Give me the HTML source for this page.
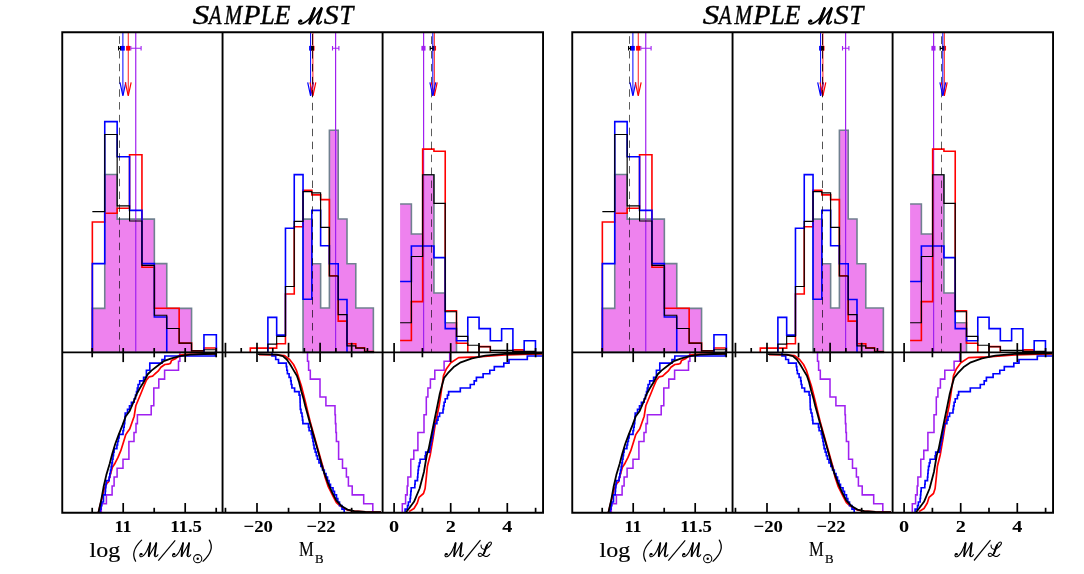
<!DOCTYPE html>
<html><head><meta charset="utf-8"><title>SAMPLE MST</title>
<style>
html,body{margin:0;padding:0;background:#fff;}
body{width:1084px;height:574px;overflow:hidden;font-family:"Liberation Serif",serif;}
svg{display:block;}
</style></head><body>
<svg width="1084" height="574" viewBox="0 0 1084 574">
<rect width="1084" height="574" fill="#fff"/>
<defs><g id="fig">
<path d="M92.35 352.4V308.4H104.75V174.5H117.15V219.1H129.55V219.1H141.95V219.1H154.35V263.6H166.75V308.4H179.15V308.4H191.55V352.4Z" fill="#ee82ee" stroke="#708090" stroke-width="1.6"/>
<line x1="135.75" y1="32.25" x2="135.75" y2="352.4" stroke="#a020f0" stroke-width="1.2"/>
<path d="M92.35 352.4V222H104.75V213.2H117.15V208.3H129.55V154.7H141.95V267.2H154.35V308.2H166.75V308.2H179.15V343.1H191.55V350.9H203.95V348H216.35V352.4" fill="none" stroke="#ff0000" stroke-width="1.6"/>
<path d="M92.35 352.4V263.6H104.75V121.6H117.15V156.7H129.55V210.4H141.95V263.6H154.35V317H166.75V352.4M203.95 352.4V334.8H216.35V352.4" fill="none" stroke="#0000ff" stroke-width="1.6"/>
<path d="M92.35 211.6H104.75V134.5H117.15V205.8H129.55V221H141.95V265.4H154.35V315.2H166.75V328.5H179.15V343.1H191.55V350.9H203.95V349.7H216.35V352.4" fill="none" stroke="#000" stroke-width="1.15"/>
<path d="M303.04 352.4V219.1H311.83V263.7H320.62V308H329.41V130.2H338.2V219H346.99V263.7H355.78V308H364.57V308H373.36V352.4Z" fill="#ee82ee" stroke="#708090" stroke-width="1.6"/>
<line x1="335.6" y1="32.25" x2="335.6" y2="352.4" stroke="#a020f0" stroke-width="1.2"/>
<path d="M250.3 352.4V348.1H259.09V348.1H267.88V348.1H276.67V343.7H285.46V294H294.25V226.7H303.04V190.3H311.83V194.9H320.62V199.6H329.41V275.8H338.2V321.1H346.99V343.7H355.78V347.7H364.57V351.5H373.36V352.4" fill="none" stroke="#ff0000" stroke-width="1.6"/>
<path d="M267.88 352.4V317.4H276.67V335.1H285.46V228.2H294.25V174.6H303.04V299.2H311.83V210.4H320.62V245.7H329.41V263.7H338.2V299.5H346.99V352.4" fill="none" stroke="#0000ff" stroke-width="1.6"/>
<path d="M267.88 352.4V344.1H276.67V336.3H285.46V286.5H294.25V221.4H303.04V191.6H311.83V192.8H320.62V227.3H329.41V276H338.2V314.6H346.99V345.9H355.78V348.1H364.57V351.5H373.36V352.4" fill="none" stroke="#000" stroke-width="1.15"/>
<path d="M400.1 352.4V204H411.38V234H422.66V174.7H433.94V293H445.22V322.7H456.5V352.4Z" fill="#ee82ee" stroke="none" stroke-width="0"/>
<path d="M400.1 204H411.38V234H422.66V174.7H433.94V293H445.22V322.7H456.5V352.4" fill="none" stroke="#708090" stroke-width="1.6"/>
<line x1="423.6" y1="32.25" x2="423.6" y2="352.4" stroke="#a020f0" stroke-width="1.2"/>
<path d="M400.1 340.5H411.38V301.6H422.66V149.1H433.94V151.2H445.22V310.7H456.5V343.3H467.78V352.4M479.06 352.4V346.6H490.34V352.4M512.9 352.4V349.9H524.18V352.4" fill="none" stroke="#ff0000" stroke-width="1.6"/>
<path d="M400.1 281.5H411.38V246H422.66V246H433.94V257.6H445.22V328.6H456.5V340.7H467.78V317.3H479.06V328.6H490.34V340.7H501.62V328.8H512.9V352.4M524.18 352.4V340.7H535.46V352.4" fill="none" stroke="#0000ff" stroke-width="1.6"/>
<path d="M400.1 322.7H411.38V256.5H422.66V174.7H433.94V203.3H445.22V311.7H456.5V336.3H467.78V345.2H479.06V346.7H490.34V350.3H501.62V350.3H512.9V351.3H524.18V351.3H535.46V352.4" fill="none" stroke="#000" stroke-width="1.15"/>
<line x1="119.45" y1="36.2" x2="119.45" y2="43.8" stroke="#000" stroke-width="0.85" opacity="0.8"/>
<line x1="119.45" y1="50.95" x2="119.45" y2="352.4" stroke="#000" stroke-width="0.85" stroke-dasharray="7.5 5.28" opacity="0.8"/>
<line x1="312.5" y1="34" x2="312.5" y2="44.9" stroke="#000" stroke-width="0.85" opacity="0.8"/>
<line x1="312.5" y1="51" x2="312.5" y2="352.4" stroke="#000" stroke-width="0.85" stroke-dasharray="7.5 5.45" opacity="0.8"/>
<line x1="431.45" y1="36.3" x2="431.45" y2="44.1" stroke="#000" stroke-width="0.85" opacity="0.8"/>
<line x1="431.45" y1="51" x2="431.45" y2="352.4" stroke="#000" stroke-width="0.85" stroke-dasharray="7.5 5.45" opacity="0.8"/>
<line x1="122.9" y1="32.25" x2="122.9" y2="95" stroke="#0000ff" stroke-width="1"/>
<path d="M120 82.3L122.9 96L125.8 82.3" fill="none" stroke="#0000ff" stroke-width="1.2" stroke-linejoin="miter"/>
<line x1="128.25" y1="32.25" x2="128.25" y2="95" stroke="#ff0000" stroke-width="0.9"/>
<path d="M125.35 82.3L128.25 96L131.15 82.3" fill="none" stroke="#ff0000" stroke-width="1.2" stroke-linejoin="miter"/>
<line x1="310.6" y1="32.25" x2="310.6" y2="95" stroke="#0000ff" stroke-width="1"/>
<path d="M307.7 82.3L310.6 96L313.5 82.3" fill="none" stroke="#0000ff" stroke-width="1.2" stroke-linejoin="miter"/>
<line x1="312.9" y1="32.25" x2="312.9" y2="95" stroke="#ff0000" stroke-width="0.9"/>
<path d="M310 82.3L312.9 96L315.8 82.3" fill="none" stroke="#ff0000" stroke-width="1.2" stroke-linejoin="miter"/>
<line x1="434.3" y1="32.25" x2="434.3" y2="95" stroke="#ff0000" stroke-width="0.9"/>
<path d="M431.4 82.3L434.3 96L437.2 82.3" fill="none" stroke="#ff0000" stroke-width="1.2" stroke-linejoin="miter"/>
<line x1="432.8" y1="32.25" x2="432.8" y2="95" stroke="#0000ff" stroke-width="1"/>
<path d="M429.9 82.3L432.8 96L435.7 82.3" fill="none" stroke="#0000ff" stroke-width="1.2" stroke-linejoin="miter"/>
<line x1="312.5" y1="34" x2="312.5" y2="44.9" stroke="#000" stroke-width="0.85" opacity="0.8"/>
<line x1="312.5" y1="51" x2="312.5" y2="97" stroke="#000" stroke-width="0.85" stroke-dasharray="7.5 5.45" opacity="0.8"/>
<path d="M130.8 45.9V50.6M130.8 48.3H141.1M141.1 45.9V50.6" fill="none" stroke="#a020f0" stroke-width="1.1"/>
<path d="M118.6 45.9V50.6M118.6 48.3H120.6M120.6 45.9V50.6" fill="none" stroke="#000" stroke-width="1.2"/>
<rect x="120.9" y="45.9" width="3.9" height="4.7" fill="#0000ff"/>
<rect x="126.1" y="45.9" width="4.1" height="4.7" fill="#ff0000"/>
<path d="M332.5 45.9V50.6M332.5 48.3H338.9M338.9 45.9V50.6" fill="none" stroke="#a020f0" stroke-width="1.1"/>
<rect x="311.2" y="45.9" width="3.3" height="4.7" fill="#ff0000"/>
<rect x="309.1" y="45.9" width="2.3" height="4.7" fill="#0000ff"/>
<rect x="311.1" y="45.9" width="2.8" height="4.7" fill="#000"/>
<rect x="421.4" y="45.9" width="4.1" height="4.7" fill="#a020f0"/>
<path d="M430.2 45.9V50.6M430.2 48.3H432.9M432.9 45.9V50.6" fill="none" stroke="#000" stroke-width="1.2"/>
<rect x="432.7" y="45.9" width="1.8" height="4.7" fill="#00007a"/>
<line x1="435.5" y1="45.9" x2="435.5" y2="50.6" stroke="#ff0000" stroke-width="1.1"/>
<path d="M101.3 512.7V503.79H106.4V494.89H112.1V485.98H114.1V477.08H117.1V468.17H123V459.27H128.9V450.36H128.9V441.46H134V432.55H136V423.64H137.4V414.74H151.2V405.83H153.8V396.93H153.8V388.02H158.8V379.12H164.6V370.21H178.5V361.31H179.9V352.4" fill="none" stroke="#a020f0" stroke-width="1.55"/>
<path d="M98.5 512.2L100.2 505L102 498L104 489.6L106.8 483.4L108.5 481.8L110.2 475.1L112.4 467.3L114.6 464.1L115.8 461.7L118 457.4L120.8 450.7L123.6 441.8L125.8 434.6L127.5 432L129.7 429L131.9 422.8L134.2 416.2L135.8 405.8L138.1 400.2L140.9 393.5L143.6 386.8L146.4 380.1L149.2 376.8L152.6 376.2L154.8 374L158.1 371.2L160.9 367.3L164.8 364.5L168 364.2L170.4 363.4L171.5 360.6L176 358.4L179.9 355L186 354.3L200 354.1L216 353.6" fill="none" stroke="#ff0000" stroke-width="1.7" stroke-linejoin="round"/>
<path d="M100.1 512.7V509.14H101V505.58H101.8V502.01H103.5V498.45H103.5V494.89H105.2V491.33H105.5V487.76H105.9V484.2H106.3V480.64H109.1V477.08H109.8V473.52H110.5V469.95H111.2V466.39H111.9V462.83H112.4V459.27H113V455.7H113.5V452.14H114.1V448.58H116.9V445.02H117.6V441.46H118.4V437.89H119.1V434.33H123V430.77H123.6V427.21H124.2V423.64H124.7V420.08H124.9V416.52H125.2V412.96H127.5V409.4H129.5V405.83H131.4V402.27H134.2V398.71H135.5V395.15H136.5V391.58H137.3V388.02H138.1V384.46H139.7V380.9H143.6V377.34H146.4V373.77H146.4V370.21H149.8V366.65H149.8V363.09H162V359.52H164.8V355.96H215.3V352.4H216" fill="none" stroke="#0000ff" stroke-width="1.65"/>
<path d="M98.5 512.2L101.3 499.6L103.5 487.3L106.3 475.1L109.6 464L112.2 454L115.2 444L118.5 435.1L122.5 425.1L125.8 416.2L129.7 411L133.3 402.5L136.9 393.5L139.7 388.5L143.6 382.3L147.5 374.5L151.4 370.6L157 366.2L163.7 361.2L171.5 358.4L179.9 356.1L190 354.6L204 354L216 353.8" fill="none" stroke="#000" stroke-width="1.8" stroke-linejoin="round"/>
<path d="M307.5 352.4V361.31H308.6V370.21H310.3V379.12H320V388.02H320V396.93H325.9V405.83H335V414.74H335.4V423.64H335.9V432.55H336.4V441.46H338.6V450.36H338.6V459.27H342.5V468.17H346.4V477.08H348.4V485.98H352.2V494.89H363.7V503.79H372.8V512.7" fill="none" stroke="#a020f0" stroke-width="1.55"/>
<path d="M259 354.7L275 354.8L284.6 355.6L289.6 359.5L293.5 364.5L296.3 370.1L299.1 379L301.3 385.7L303.6 394.6L305.8 403.5L307.9 412.5L310.2 421.7L314.5 437.3L319 453L323.2 468L325 477L328 486L331 492L333.5 497L336.4 502.5L341 506.6L347 509.8L354.2 511.1L365.4 511.9L381 512.2" fill="none" stroke="#ff0000" stroke-width="1.7" stroke-linejoin="round"/>
<path d="M272 352.4V355.96H275.7V359.52H278.5V363.09H286.3V366.65H286.8V370.21H287.4V373.77H289.1V377.34H290.7V380.9H291.2V384.46H291.9V388.02H294.6V391.58H299.1V395.15H300V398.71H300.1V402.27H300.2V405.83H300.3V409.4H301V412.96H302V416.52H302.5V420.08H302.9V423.64H308.5V427.21H309.1V430.77H311.3V434.33H312.2V437.89H312.9V441.46H313.5V445.02H314.1V448.58H315.2V452.14H316.3V455.7H317.4V459.27H319V462.83H320.8V466.39H322.5V469.95H324.3V473.52H326V477.08H327.5V480.64H329V484.2H330.5V487.76H333V491.33H334.5V494.89H336.5V498.45H337.8V502.01H339.5V505.58H342V509.14H344.2V512.7" fill="none" stroke="#0000ff" stroke-width="1.65"/>
<path d="M257.8 354.2L268 354.3L276.8 354.7L282.9 356.1L286.8 359.5L290.2 364.5L293.5 370.1L296.9 375.7L299.1 382.3L301.3 391.3L303.6 399.1L305.2 405.8L307.5 414L309.6 421.7L314.1 437.3L318.5 453L323 469.5L327.5 481.8L331.9 491.8L336.4 500.7L341.9 506.3L347.5 509.6L354.2 511.1L365.4 511.9L381 512.2" fill="none" stroke="#000" stroke-width="1.8" stroke-linejoin="round"/>
<path d="M402.3 512.7V503.79H405.6V494.89H407.2V485.98H407.9V477.08H410.8V468.17H410.8V459.27H413.8V450.36H417.9V441.46H417.9V432.55H424V423.64H424V414.74H426.3V405.83H426.3V396.93H427.9V388.02H430.4V379.12H434.8V370.21H444.1V361.31H449.7V352.4" fill="none" stroke="#a020f0" stroke-width="1.55"/>
<path d="M409 511.6L414 508.5L417.3 503L419 497.4L423.5 493.5L425.1 488.5L426.3 477.3L427.4 466.2L430.2 455L433 438.5L435.7 421.7L437.4 414L439.1 405.8L440.8 394.6L442.4 383.5L443.5 375.7L446.3 369L450.8 362.8L458.6 357.6L477.6 356.9L504.9 355L530 354.2L542 354" fill="none" stroke="#ff0000" stroke-width="1.7" stroke-linejoin="round"/>
<path d="M405.1 512.7V509.14H407.5V505.58H408.4V502.01H410.1V498.45H410.5V494.89H410.8V491.33H411.2V487.76H414.8V484.2H415.1V480.64H417.5V477.08H417.8V473.52H418.1V469.95H418.5V466.39H419.3V462.83H420.1V459.27H425.1V455.7H425.7V452.14H429.6V448.58H430.3V445.02H431V441.46H431.7V437.89H432.4V434.33H433V430.77H433.5V427.21H434.1V423.64H436.9V420.08H438V416.52H439.6V412.96H443V409.4H443.5V405.83H444.1V402.27H445.2V398.71H447.4V395.15H448.6V391.58H460.3V388.02H470.3V384.46H474.2V380.9H476.4V377.34H483.1V373.77H489.8V370.21H494.3V366.65H503.8V363.09H509V359.52H527.3V355.96H542.5" fill="none" stroke="#0000ff" stroke-width="1.65"/>
<path d="M406.2 512L409 508.5L414 501.8L419.6 488.5L424 471.7L426.8 455L428.5 449.6L433 427.3L435.7 414L437.4 405.8L439.6 394.6L441.9 385.7L444.1 377.9L448.6 372.3L454.1 366.7L460.8 362.3L472 358.4L485.4 355.6L504.9 353.9L525 353.5L542 353.4" fill="none" stroke="#000" stroke-width="1.8" stroke-linejoin="round"/>
<path d="M62.25 32.25H543.05V512.7H62.25Z M62.25 352.4H543.05 M222.55 32.25V512.7 M382.6 32.25V512.7" fill="none" stroke="#000" stroke-width="1.9" stroke-linejoin="miter"/>
<line x1="92.2" y1="507.8" x2="92.2" y2="512.7" stroke="#000" stroke-width="1.7"/>
<line x1="92.2" y1="348" x2="92.2" y2="357.3" stroke="#000" stroke-width="1.7"/>
<line x1="123.2" y1="503" x2="123.2" y2="512.7" stroke="#000" stroke-width="1.7"/>
<line x1="123.2" y1="348" x2="123.2" y2="362.1" stroke="#000" stroke-width="1.7"/>
<line x1="154.2" y1="507.8" x2="154.2" y2="512.7" stroke="#000" stroke-width="1.7"/>
<line x1="154.2" y1="348" x2="154.2" y2="357.3" stroke="#000" stroke-width="1.7"/>
<line x1="185.2" y1="503" x2="185.2" y2="512.7" stroke="#000" stroke-width="1.7"/>
<line x1="185.2" y1="348" x2="185.2" y2="362.1" stroke="#000" stroke-width="1.7"/>
<line x1="216.2" y1="507.8" x2="216.2" y2="512.7" stroke="#000" stroke-width="1.7"/>
<line x1="216.2" y1="348" x2="216.2" y2="357.3" stroke="#000" stroke-width="1.7"/>
<line x1="225.45" y1="507.8" x2="225.45" y2="512.7" stroke="#000" stroke-width="1.7"/>
<line x1="225.45" y1="342.8" x2="225.45" y2="357.3" stroke="#000" stroke-width="1.7"/>
<line x1="241.22" y1="348" x2="241.22" y2="352.4" stroke="#000" stroke-width="1.7"/>
<line x1="257" y1="503" x2="257" y2="512.7" stroke="#000" stroke-width="1.7"/>
<line x1="257" y1="342.8" x2="257" y2="362.1" stroke="#000" stroke-width="1.7"/>
<line x1="272.77" y1="348" x2="272.77" y2="352.4" stroke="#000" stroke-width="1.7"/>
<line x1="288.55" y1="507.8" x2="288.55" y2="512.7" stroke="#000" stroke-width="1.7"/>
<line x1="288.55" y1="342.8" x2="288.55" y2="357.3" stroke="#000" stroke-width="1.7"/>
<line x1="304.32" y1="348" x2="304.32" y2="352.4" stroke="#000" stroke-width="1.7"/>
<line x1="320.1" y1="503" x2="320.1" y2="512.7" stroke="#000" stroke-width="1.7"/>
<line x1="320.1" y1="342.8" x2="320.1" y2="362.1" stroke="#000" stroke-width="1.7"/>
<line x1="335.88" y1="348" x2="335.88" y2="352.4" stroke="#000" stroke-width="1.7"/>
<line x1="351.65" y1="507.8" x2="351.65" y2="512.7" stroke="#000" stroke-width="1.7"/>
<line x1="351.65" y1="342.8" x2="351.65" y2="357.3" stroke="#000" stroke-width="1.7"/>
<line x1="367.43" y1="348" x2="367.43" y2="352.4" stroke="#000" stroke-width="1.7"/>
<line x1="394.1" y1="503" x2="394.1" y2="512.7" stroke="#000" stroke-width="1.7"/>
<line x1="394.1" y1="343.1" x2="394.1" y2="362.1" stroke="#000" stroke-width="1.7"/>
<line x1="422.4" y1="507.8" x2="422.4" y2="512.7" stroke="#000" stroke-width="1.7"/>
<line x1="422.4" y1="348" x2="422.4" y2="357.3" stroke="#000" stroke-width="1.7"/>
<line x1="450.7" y1="503" x2="450.7" y2="512.7" stroke="#000" stroke-width="1.7"/>
<line x1="450.7" y1="343.1" x2="450.7" y2="362.1" stroke="#000" stroke-width="1.7"/>
<line x1="479" y1="507.8" x2="479" y2="512.7" stroke="#000" stroke-width="1.7"/>
<line x1="479" y1="343.1" x2="479" y2="357.3" stroke="#000" stroke-width="1.7"/>
<line x1="507.3" y1="503" x2="507.3" y2="512.7" stroke="#000" stroke-width="1.7"/>
<line x1="507.3" y1="343.1" x2="507.3" y2="362.1" stroke="#000" stroke-width="1.7"/>
<line x1="535.6" y1="507.8" x2="535.6" y2="512.7" stroke="#000" stroke-width="1.7"/>
<line x1="535.6" y1="348" x2="535.6" y2="357.3" stroke="#000" stroke-width="1.7"/>
<g style="filter:grayscale(1)"><text x="123.1" y="531.7" font-family="'Liberation Serif', serif" font-size="17.6" font-weight="bold" font-style="normal" text-anchor="middle" textLength="17.1" lengthAdjust="spacingAndGlyphs" stroke="#000" stroke-width="0.05">11</text>
<text x="186.1" y="531.7" font-family="'Liberation Serif', serif" font-size="17.6" font-weight="bold" font-style="normal" text-anchor="middle" textLength="31.7" lengthAdjust="spacingAndGlyphs" stroke="#000" stroke-width="0.05">11.5</text>
<text x="258.2" y="531.7" font-family="'Liberation Serif', serif" font-size="17.6" font-weight="bold" font-style="normal" text-anchor="middle" textLength="29.4" lengthAdjust="spacingAndGlyphs" stroke="#000" stroke-width="0.05">−20</text>
<text x="321" y="531.7" font-family="'Liberation Serif', serif" font-size="17.6" font-weight="bold" font-style="normal" text-anchor="middle" textLength="29" lengthAdjust="spacingAndGlyphs" stroke="#000" stroke-width="0.05">−22</text>
<text x="394" y="531.7" font-family="'Liberation Serif', serif" font-size="17.6" font-weight="bold" font-style="normal" text-anchor="middle" textLength="10.1" lengthAdjust="spacingAndGlyphs" stroke="#000" stroke-width="0.05">0</text>
<text x="450.7" y="531.7" font-family="'Liberation Serif', serif" font-size="17.6" font-weight="bold" font-style="normal" text-anchor="middle" textLength="10.1" lengthAdjust="spacingAndGlyphs" stroke="#000" stroke-width="0.05">2</text>
<text x="507.3" y="531.7" font-family="'Liberation Serif', serif" font-size="17.6" font-weight="bold" font-style="normal" text-anchor="middle" textLength="10.1" lengthAdjust="spacingAndGlyphs" stroke="#000" stroke-width="0.05">4</text>
<text x="192.82" y="24" font-family="'Liberation Serif', serif" font-size="26.4" font-weight="normal" font-style="italic" text-anchor="start" textLength="16.41" lengthAdjust="spacingAndGlyphs" stroke="#000" stroke-width="0.45">S</text>
<text x="209.02" y="24" font-family="'Liberation Serif', serif" font-size="26.4" font-weight="normal" font-style="italic" text-anchor="start" textLength="12.51" lengthAdjust="spacingAndGlyphs" stroke="#000" stroke-width="0.45">A</text>
<text x="224.45" y="24" font-family="'Liberation Serif', serif" font-size="26.4" font-weight="normal" font-style="italic" text-anchor="start" textLength="17.58" lengthAdjust="spacingAndGlyphs" stroke="#000" stroke-width="0.45">M</text>
<text x="243.35" y="24" font-family="'Liberation Serif', serif" font-size="26.4" font-weight="normal" font-style="italic" text-anchor="start" textLength="17.16" lengthAdjust="spacingAndGlyphs" stroke="#000" stroke-width="0.45">P</text>
<text x="260.4" y="24" font-family="'Liberation Serif', serif" font-size="26.4" font-weight="normal" font-style="italic" text-anchor="start" textLength="14.21" lengthAdjust="spacingAndGlyphs" stroke="#000" stroke-width="0.45">L</text>
<text x="274.51" y="24" font-family="'Liberation Serif', serif" font-size="26.4" font-weight="normal" font-style="italic" text-anchor="start" textLength="15.91" lengthAdjust="spacingAndGlyphs" stroke="#000" stroke-width="0.45">E</text>
<text x="323.75" y="24" font-family="'Liberation Serif', serif" font-size="26.4" font-weight="normal" font-style="italic" text-anchor="start" textLength="14.83" lengthAdjust="spacingAndGlyphs" stroke="#000" stroke-width="0.45">S</text>
<text x="339.48" y="24" font-family="'Liberation Serif', serif" font-size="26.4" font-weight="normal" font-style="italic" text-anchor="start" textLength="13.76" lengthAdjust="spacingAndGlyphs" stroke="#000" stroke-width="0.45">T</text>
<path d="M300.79 20.39 C298.24 20.39 298 24.14 300.79 23.97 C302.88 23.81 308.1 21.04 310.18 17.62 L314.59 8.33M309.6 23.48 L321.55 8.33M317.26 22.02 C316.8 24.63 319.35 24.95 321.32 21.69" fill="none" stroke="#000" stroke-width="1.61" stroke-linecap="round" stroke-linejoin="round"/>
<path d="M314.59 8.49 Q311.4 16.97 309.6 23.32 M321.55 8.49 L317.26 22.18" fill="none" stroke="#000" stroke-width="2.71" stroke-linecap="round" stroke-linejoin="round"/>
<circle cx="300.79" cy="21.04" r="1.66" fill="#000"/>
<text x="89.6" y="557.2" font-family="'Liberation Serif', serif" font-size="20" font-weight="normal" font-style="normal" text-anchor="start" textLength="30.6" lengthAdjust="spacingAndGlyphs" stroke="#000" stroke-width="0.18">log</text>
<path d="M141.6 540.1Q129.9 551.5 135.6 561.2" fill="none" stroke="#000" stroke-width="1.25" stroke-linecap="round"/>
<path d="M141.37 553.62 C139.31 553.62 139.13 556.86 141.37 556.72 C143.05 556.58 144.98 554.18 146.66 551.22 L150.22 543.18M148.79 556.29 L156.24 543.18M154.68 555.03 C154.31 557.28 156.37 557.56 157.92 554.74" fill="none" stroke="#000" stroke-width="1.15" stroke-linecap="round" stroke-linejoin="round"/>
<path d="M150.22 543.32 Q148.94 550.65 148.79 556.15 M156.24 543.32 L154.68 555.17" fill="none" stroke="#000" stroke-width="1.94" stroke-linecap="round" stroke-linejoin="round"/>
<circle cx="141.37" cy="554.18" r="1.19" fill="#000"/>
<line x1="158.3" y1="560.7" x2="175.2" y2="540.4" stroke="#000" stroke-width="1.2"/>
<path d="M174.17 553.62 C172.11 553.62 171.93 556.86 174.17 556.72 C175.85 556.58 177.78 554.18 179.46 551.22 L183.02 543.18M181.59 556.29 L189.04 543.18M187.48 555.03 C187.11 557.28 189.17 557.56 190.72 554.74" fill="none" stroke="#000" stroke-width="1.15" stroke-linecap="round" stroke-linejoin="round"/>
<path d="M183.02 543.32 Q181.74 550.65 181.59 556.15 M189.04 543.32 L187.48 555.17" fill="none" stroke="#000" stroke-width="1.94" stroke-linecap="round" stroke-linejoin="round"/>
<circle cx="174.17" cy="554.18" r="1.19" fill="#000"/>
<circle cx="197.7" cy="558.7" r="4.1" fill="none" stroke="#000" stroke-width="1.05"/><circle cx="197.7" cy="558.7" r="1.2" fill="#000"/>
<path d="M209.3 540.1Q215.3 549.8 203.1 561.2" fill="none" stroke="#000" stroke-width="1.25" stroke-linecap="round"/>
<text x="299" y="556.4" font-family="'Liberation Serif', serif" font-size="21.4" font-weight="normal" font-style="normal" text-anchor="start" textLength="14.8" lengthAdjust="spacingAndGlyphs" stroke="#000" stroke-width="0.18">M</text>
<text x="315" y="563" font-family="'Liberation Serif', serif" font-size="13.5" font-weight="normal" font-style="normal" text-anchor="start" textLength="8.6" lengthAdjust="spacingAndGlyphs" stroke="#000" stroke-width="0.18">B</text>
<path d="M446.6 553.57 C444.51 553.57 444.32 556.86 446.6 556.71 C448.31 556.57 450.27 554.14 451.98 551.14 L455.59 542.99M454.14 556.29 L461.7 542.99M460.13 555 C459.75 557.29 461.84 557.57 463.41 554.71" fill="none" stroke="#000" stroke-width="1.15" stroke-linecap="round" stroke-linejoin="round"/>
<path d="M455.59 543.13 Q454.29 550.57 454.14 556.14 M461.7 543.13 L460.13 555.14" fill="none" stroke="#000" stroke-width="1.94" stroke-linecap="round" stroke-linejoin="round"/>
<circle cx="446.6" cy="554.14" r="1.19" fill="#000"/>
<line x1="464" y1="560.5" x2="480.5" y2="540.2" stroke="#000" stroke-width="1.2"/>
<path d="M481.1 545.1C481 546.3 481.1 547.3 481.7 548C482.3 548.8 483 549.2 484 549.3C485 549.4 486.1 549 487 548.4C488.2 547.6 489.3 546.7 490.1 545.7C490.8 544.9 491.3 544.1 491.4 543.4C491.6 542.6 491.2 542.1 490.5 542C489.9 541.9 489.4 542.2 488.9 542.6C488.1 543.3 487.5 544.3 487 545.3C486.4 546.5 485.9 547.8 485.5 549.1C485 550.5 484.5 552 484 553.3C483.6 554.2 483.1 554.9 482.4 555.4C481.8 556 481 556.4 480.1 556.4C479.3 556.4 478.7 556 478.4 555.4C478.2 554.9 478.2 554.3 478.6 553.9C479 553.4 479.7 553.2 480.3 553.3C481.2 553.5 482 554.3 482.8 554.9C483.6 555.5 484.5 556.2 485.5 556.4C486.3 556.5 487.1 556.4 487.8 556C488.5 555.6 489.2 555 489.7 554.3" fill="none" stroke="#000" stroke-width="1.1" stroke-linecap="round" stroke-linejoin="round"/>
<path d="M487.2 545C486.4 546.5 485.9 547.8 485.5 549.1C485 550.5 484.5 552 483.9 553.5" fill="none" stroke="#000" stroke-width="1.98" stroke-linecap="round"/></g>
</g></defs>
<use href="#fig"/>
<use href="#fig" transform="translate(510,0)"/>
</svg>
</body></html>
